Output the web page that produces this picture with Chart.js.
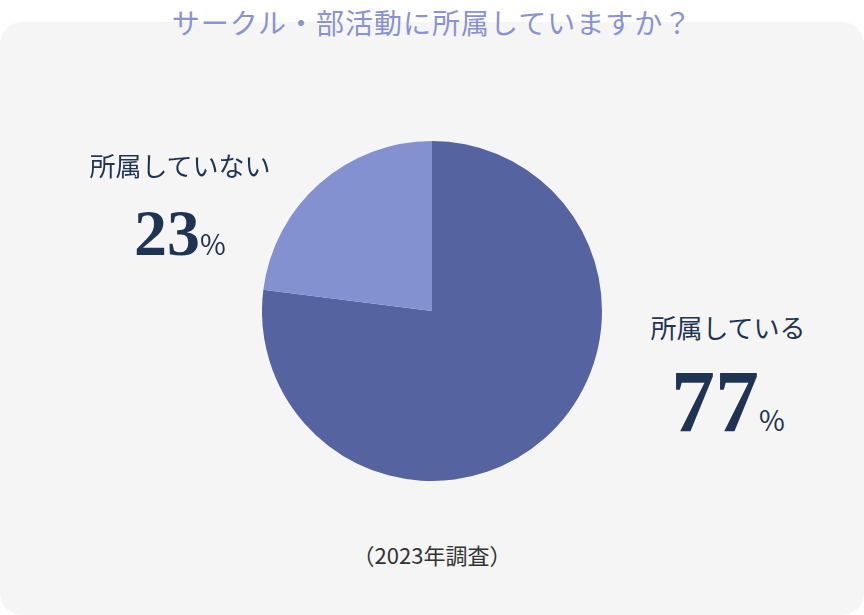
<!DOCTYPE html>
<html><head><meta charset="utf-8">
<script src="https://cdn.jsdelivr.net/npm/chart.js@4"></script>
<style>
  html,body{margin:0;padding:0;background:#fff;width:864px;height:615px;overflow:hidden;font-family:"Noto Sans CJK JP","Noto Sans",sans-serif;}
  .panel{position:absolute;left:0;top:22px;width:864px;height:593px;background:#f5f5f5;border-radius:22px;}
  .title{position:absolute;left:0;top:2px;width:864px;text-align:center;font-size:28px;color:#8a92d2;letter-spacing:1px;}
  .lab{position:absolute;color:#1f3354;font-size:26px;text-align:center;}
  .num{font-family:"Liberation Serif","DejaVu Serif",serif;font-weight:bold;line-height:1;}
  .pct{font-family:"Noto Sans CJK JP",sans-serif;font-size:28px;font-weight:normal;}
  .note{position:absolute;left:0;top:538px;width:864px;text-align:center;font-size:22px;color:#333;}
  #wrap{position:absolute;left:262px;top:141px;width:340px;height:340px;}
</style></head>
<body>
<div class="panel"></div>
<div class="title">サークル・部活動に所属していますか？</div>
<div id="wrap"><canvas id="pie"></canvas></div>
<div class="lab" style="left:60px;top:146px;width:240px;">所属していない</div>
<div class="lab num" style="left:60px;top:200px;width:240px;font-size:66px;">23<span class="pct">%</span></div>
<div class="lab" style="left:618px;top:308px;width:220px;">所属している</div>
<div class="lab num" style="left:618px;top:358px;width:220px;font-size:88px;">77<span class="pct">%</span></div>
<div class="note">（2023年調査）</div>
<script>
const categories = ['所属している', '所属していない'];
const values = [77, 23];
const colors = ['#5563a1', '#8491d0'];

new Chart(document.getElementById('pie'), {
  type: 'pie',
  data: { labels: categories, datasets: [{ data: values, backgroundColor: colors, borderWidth: 0 }] },
  options: {
    responsive: true, maintainAspectRatio: false, animation: false,
    plugins: { legend: { display: false }, tooltip: { enabled: false } },
  },
});
</script>
</body></html>
